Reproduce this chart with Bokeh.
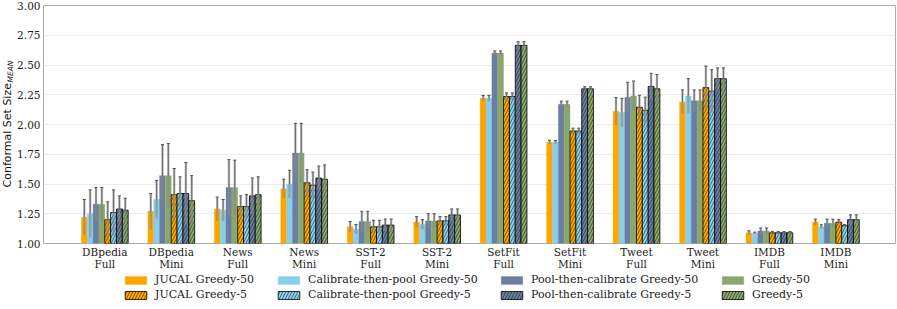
import numpy as np
from bokeh.plotting import figure
from bokeh.layouts import column, row
from bokeh.models import (FixedTicker, Legend, LegendItem, Label, ColumnDataSource,
                          Whisker, TeeHead, Range1d)
from bokeh.embed import file_html
from bokeh.resources import INLINE

# ---------------- data ----------------
datasets = ["DBpedia\nFull", "DBpedia\nMini", "News\nFull", "News\nMini",
            "SST-2\nFull", "SST-2\nMini", "SetFit\nFull", "SetFit\nMini",
            "Tweet\nFull", "Tweet\nMini", "IMDB\nFull", "IMDB\nMini"]

series_names = ["JUCAL Greedy-50", "Calibrate-then-pool Greedy-50",
                "Pool-then-calibrate Greedy-50", "Greedy-50",
                "JUCAL Greedy-5", "Calibrate-then-pool Greedy-5",
                "Pool-then-calibrate Greedy-5", "Greedy-5"]

jucal_50 = [1.22, 1.27, 1.29, 1.46, 1.14, 1.18, 2.22, 1.85, 2.11, 2.19, 1.09, 1.18]
jucal_50_err = [0.15, 0.15, 0.10, 0.08, 0.045, 0.045, 0.024, 0.017, 0.115, 0.10, 0.016, 0.025]

ctp_50 = [1.25, 1.37, 1.28, 1.50, 1.12, 1.16, 2.22, 1.85, 2.10, 2.24, 1.087, 1.14]
ctp_50_err = [0.20, 0.16, 0.09, 0.115, 0.04, 0.04, 0.024, 0.015, 0.12, 0.145, 0.008, 0.017]

ptc_50 = [1.33, 1.57, 1.47, 1.76, 1.185, 1.19, 2.60, 2.17, 2.23, 2.20, 1.105, 1.17]
ptc_50_err = [0.14, 0.26, 0.235, 0.25, 0.085, 0.06, 0.018, 0.026, 0.125, 0.09, 0.025, 0.034]

greedy_50 = [1.33, 1.57, 1.47, 1.76, 1.185, 1.19, 2.60, 2.17, 2.24, 2.20, 1.105, 1.17]
greedy_50_err = [0.14, 0.27, 0.23, 0.25, 0.085, 0.06, 0.018, 0.026, 0.125, 0.09, 0.025, 0.034]

jucal_5 = [1.20, 1.41, 1.31, 1.51, 1.14, 1.19, 2.235, 1.945, 2.145, 2.31, 1.09, 1.18]
jucal_5_err = [0.15, 0.22, 0.09, 0.11, 0.055, 0.035, 0.03, 0.024, 0.10, 0.18, 0.012, 0.02]

ctp_5 = [1.26, 1.42, 1.31, 1.49, 1.14, 1.19, 2.235, 1.945, 2.12, 2.28, 1.09, 1.15]
ctp_5_err = [0.19, 0.14, 0.10, 0.11, 0.055, 0.035, 0.03, 0.024, 0.11, 0.18, 0.01, 0.01]

ptc_5 = [1.29, 1.42, 1.40, 1.55, 1.155, 1.24, 2.665, 2.30, 2.32, 2.385, 1.09, 1.20]
ptc_5_err = [0.11, 0.26, 0.15, 0.10, 0.05, 0.05, 0.03, 0.017, 0.11, 0.09, 0.01, 0.04]

greedy_5 = [1.28, 1.36, 1.41, 1.54, 1.155, 1.24, 2.665, 2.30, 2.30, 2.385, 1.09, 1.20]
greedy_5_err = [0.10, 0.21, 0.15, 0.12, 0.05, 0.05, 0.03, 0.017, 0.12, 0.09, 0.01, 0.04]

y_ticks = [1.00, 1.25, 1.50, 1.75, 2.00, 2.25, 2.50, 2.75, 3.00]
y_label = "Conformal Set Size"
y_label_sub = "MEAN"

# ---------------- style ----------------
means = [jucal_50, ctp_50, ptc_50, greedy_50, jucal_5, ctp_5, ptc_5, greedy_5]
errs = [jucal_50_err, ctp_50_err, ptc_50_err, greedy_50_err,
        jucal_5_err, ctp_5_err, ptc_5_err, greedy_5_err]
colors = ["#FFA500", "#87CEEB", "#6A7FA0", "#88A86C"] * 2
hatched = [False] * 4 + [True] * 4

SERIF = "DejaVu Serif"
SANS = "DejaVu Sans"

LEFT_W = 14
MAIN_H = 272
TOTAL_W = 897
TOTAL_H = 309
FRAME_BOTTOM = 244   # frame bottom, px from top of the page


def bar_style(k):
    if hatched[k]:
        return dict(fill_color=colors[k], line_color="black", line_width=0.8,
                    hatch_pattern="/", hatch_color="black", hatch_alpha=0.65,
                    hatch_scale=6, hatch_weight=0.7)
    return dict(fill_color=colors[k], line_color=colors[k], line_alpha=0.5,
                line_width=0.6)


# ---------------- main plot ----------------
p = figure(width=TOTAL_W - LEFT_W, height=MAIN_H, output_backend="svg",
           toolbar_location=None,
           x_range=Range1d(-0.922, 11.897), y_range=Range1d(1.0, 3.0),
           min_border_left=40 - LEFT_W, min_border_right=2, min_border_top=5,
           min_border_bottom=MAIN_H - FRAME_BOTTOM)

p.background_fill_color = "white"
p.border_fill_color = "white"
p.outline_line_color = "#aaaaaa"
p.outline_line_width = 1
p.xgrid.grid_line_color = None
p.ygrid.grid_line_color = "#ececec"
p.ygrid.grid_line_width = 1

p.xaxis.ticker = FixedTicker(ticks=list(range(len(datasets))))
p.xaxis.major_label_overrides = {i: d for i, d in enumerate(datasets)}
p.yaxis.ticker = FixedTicker(ticks=y_ticks)
p.yaxis.major_label_overrides = {t: f"{t:.2f}" for t in y_ticks}
for ax in (p.xaxis, p.yaxis):
    ax.axis_line_color = None
    ax.major_tick_line_color = None
    ax.minor_tick_line_color = None
    ax.major_tick_out = 0
    ax.major_tick_in = 0
    ax.minor_tick_out = 0
    ax.major_label_text_font = SERIF
    ax.major_label_text_font_size = "10.5px"
    ax.major_label_text_color = "#222222"
    ax.major_label_text_line_height = 1.0
p.xaxis.major_label_standoff = 2
p.yaxis.major_label_standoff = 3

n_series = len(means)
bar_w = 0.088
x_base = np.arange(len(datasets))
sources = []
for k in range(n_series):
    xs = x_base + (k - (n_series - 1) / 2) * bar_w
    m = np.array(means[k])
    e = np.array(errs[k])
    src = ColumnDataSource(dict(x=xs, top=m, lo=m - e, hi=m + e))
    sources.append(src)
    p.vbar(x="x", top="top", bottom=1.0, width=bar_w, source=src, **bar_style(k))
    # gray (wide, translucent) and black (thin) error bars
    p.segment(x0="x", y0="lo", x1="x", y1="hi", source=src,
              line_color="#888888", line_alpha=0.6, line_width=2.4)
    w = Whisker(base="x", lower="lo", upper="hi", source=src,
                line_color="#222222", line_width=0.9,
                upper_head=TeeHead(size=3, line_color="#222222", line_width=0.9),
                lower_head=TeeHead(size=3, line_color="#222222", line_width=0.9))
    p.add_layout(w)

# ---------------- y label strip (its frame is aligned with the main frame) ----------------
yl = figure(width=LEFT_W, height=MAIN_H, output_backend="svg", toolbar_location=None,
            x_axis_location=None, y_axis_location=None,
            x_range=Range1d(0, 1), y_range=Range1d(0, 1),
            min_border=0)
yl.outline_line_color = None
yl.grid.grid_line_color = None
yl.add_layout(Label(x=7, y=FRAME_BOTTOM - 188, x_units="screen", y_units="screen",
                    text=y_label, angle=np.pi / 2,
                    text_font=SANS, text_font_size="11px",
                    text_align="left", text_baseline="middle", text_color="#111111"))
yl.add_layout(Label(x=10, y=FRAME_BOTTOM - 83, x_units="screen", y_units="screen",
                    text=y_label_sub, angle=np.pi / 2,
                    text_font=SANS, text_font_size="7.5px", text_font_style="italic",
                    text_align="left", text_baseline="middle", text_color="#111111"))

# ---------------- legend strip ----------------
LEG_H = TOTAL_H - MAIN_H
lf = figure(width=TOTAL_W, height=LEG_H, output_backend="svg", toolbar_location=None,
            x_axis_location=None, y_axis_location=None,
            x_range=Range1d(-100, -99), y_range=Range1d(-100, -99),
            min_border=0)
lf.outline_line_color = None
lf.grid.grid_line_color = None
proxies = []
for k in range(n_series):
    # same data, lying far outside this strip's ranges; only used for legend swatches
    proxies.append(lf.vbar(x="x", top="top", bottom=1.0, width=bar_w,
                           source=sources[k], **bar_style(k)))

col_x = [122, 275, 498, 719]
for c in range(4):
    items = [LegendItem(label=series_names[c], renderers=[proxies[c]]),
             LegendItem(label=series_names[c + 4], renderers=[proxies[c + 4]])]
    lg = Legend(items=items, location=(col_x[c], 8), orientation="vertical",
                padding=0, margin=0, spacing=2, glyph_width=27, glyph_height=10,
                label_height=10, label_standoff=6,
                label_text_font=SERIF, label_text_font_size="11px",
                label_text_color="#222222",
                border_line_alpha=0, background_fill_alpha=0)
    lf.add_layout(lg)

layout = column(row(yl, p, spacing=0), lf, spacing=0)

open("out.html", "w").write(file_html(layout, INLINE))
